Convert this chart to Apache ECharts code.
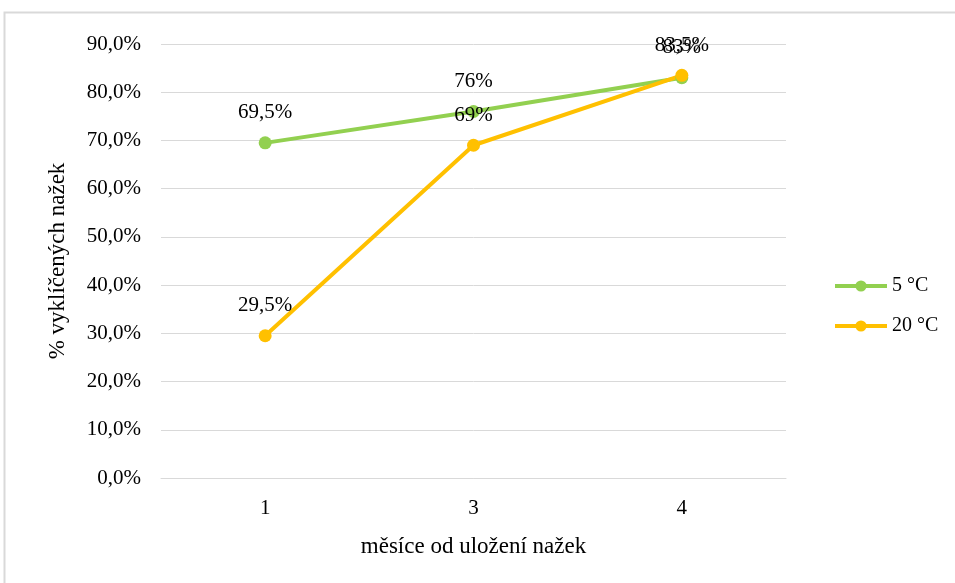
<!DOCTYPE html>
<html>
<head>
<meta charset="utf-8">
<script src="https://cdn.jsdelivr.net/npm/echarts@6/dist/echarts.min.js"></script>
<style>
html,body{margin:0;padding:0;background:#fff;}
#chart{width:955px;height:583px;}
</style>
</head>
<body>
<div id="chart"></div>
<script>
// Months since the achenes were stored
const months = ['1', '3', '4'];
// Germination share (%) for each storage temperature
const germ5 = [69.5, 76, 83];
const germ20 = [29.5, 69, 83.5];
const seriesNames = ['5 °C', '20 °C'];
const yTicks = { min: 0, max: 90, interval: 10 };

const serif = '"Liberation Serif", "Times New Roman", serif';
const pct = v => String(v).replace('.', ',') + '%';

const chart = echarts.init(document.getElementById('chart'));
chart.setOption({
  animation: false,
  textStyle: { fontFamily: serif, color: '#000' },
  graphic: [{
    type: 'rect',
    shape: { x: 4.5, y: 12.5, width: 1000, height: 700 },
    style: { fill: 'none', stroke: '#d9d9d9', lineWidth: 2 }
  }],
  grid: { left: 161, right: 169, top: 44, bottom: 105 },
  legend: {
    orient: 'vertical',
    left: 828,
    top: 271,
    itemWidth: 52,
    itemHeight: 14,
    itemGap: 20,
    lineStyle: { width: 4 },
    textStyle: { fontFamily: serif, fontSize: 20, color: '#000' },
    data: seriesNames
  },
  xAxis: {
    type: 'category',
    data: months,
    name: 'měsíce od uložení nažek',
    nameLocation: 'middle',
    nameGap: 57,
    nameTextStyle: { fontFamily: serif, fontSize: 23, color: '#000' },
    axisLine: { lineStyle: { color: '#d9d9d9', width: 1 } },
    axisTick: { show: false },
    axisLabel: { fontFamily: serif, fontSize: 21, color: '#000', margin: 20 }
  },
  yAxis: {
    type: 'value',
    min: yTicks.min,
    max: yTicks.max,
    interval: yTicks.interval,
    name: '% vyklíčených nažek',
    nameLocation: 'middle',
    nameGap: 92,
    nameTextStyle: { fontFamily: serif, fontSize: 23, color: '#000' },
    axisLine: { show: false },
    axisTick: { show: false },
    splitLine: { lineStyle: { color: '#d9d9d9', width: 1 } },
    axisLabel: {
      fontFamily: serif, fontSize: 21, color: '#000', margin: 20,
      formatter: v => v.toFixed(1).replace('.', ',') + '%'
    }
  },
  series: [
    {
      name: seriesNames[0],
      type: 'line',
      data: germ5,
      symbol: 'circle',
      symbolSize: 13,
      itemStyle: { color: '#92d050' },
      lineStyle: { color: '#92d050', width: 4 },
      label: {
        show: true, position: 'top', distance: 13,
        fontFamily: serif, fontSize: 21, color: '#000',
        formatter: p => pct(p.value)
      }
    },
    {
      name: seriesNames[1],
      type: 'line',
      data: germ20,
      symbol: 'circle',
      symbolSize: 13,
      itemStyle: { color: '#ffc000' },
      lineStyle: { color: '#ffc000', width: 4 },
      label: {
        show: true, position: 'top', distance: 13,
        fontFamily: serif, fontSize: 21, color: '#000',
        formatter: p => pct(p.value)
      }
    }
  ]
});
</script>
</body>
</html>
